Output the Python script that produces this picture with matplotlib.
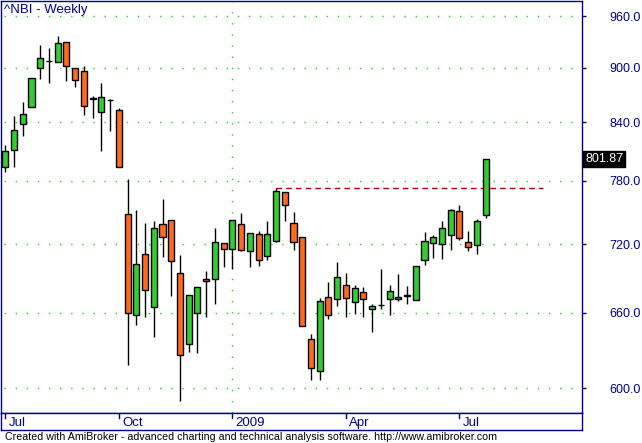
import matplotlib
matplotlib.use('Agg')
import matplotlib.pyplot as plt
from matplotlib.ticker import FixedLocator, NullLocator, FuncFormatter
from matplotlib import transforms

plt.rcParams['font.family'] = ['Liberation Sans', 'DejaVu Sans']

# weekly OHLC, one row per week starting early Jul 2008
opens = [793.5, 811, 838, 856, 900, 908, 906, 929, 900, 896,
         866, 851, 863.6, 853, 748, 658.4, 711, 665, 738, 742.5,
         694, 634.4, 660, 688.7, 688.7, 721, 715.7, 738.8, 714, 729.4,
         709.6, 722.8, 768.8, 739.7, 726.6, 638.4, 613.6, 673, 671.3, 683.5,
         668.7, 677.4, 663, 666.5, 671.3, 671.3, 675, 670.4, 705.2, 721,
         720, 728.5, 751, 722, 719, 746.5]
highs = [816.5, 846, 862, 888, 926, 922, 937, 929, 900, 901.5,
         868.7, 883, 865.4, 855.6, 782, 752, 739, 741, 762.5, 742.5,
         710, 674.8, 681.7, 696, 735, 721, 742.5, 749, 730, 732,
         741, 772.5, 768.8, 750, 726.6, 642.6, 672.4, 686.4, 703.7, 694,
         683.8, 682, 667.3, 697.9, 683.8, 693.3, 682.9, 700, 730.6, 728.5,
         741, 753, 756, 732, 743.4, 801.87]
lows = [788.9, 794, 825, 856, 887, 882.5, 906, 885, 877.7, 848,
        844, 810, 830.3, 793.5, 618, 650, 656.5, 640, 708, 674,
        590.7, 628.5, 627.7, 656.5, 667.5, 699.6, 698, 714, 699, 700.5,
        706, 722, 741, 714.5, 648.8, 606, 606.6, 655, 665.7, 656.5,
        659, 656.5, 644.5, 663.6, 658, 670, 667.8, 670.4, 701.4, 707.5,
        706.6, 714.5, 723.7, 713.6, 711.3, 744.3]
closes = [810.3, 832, 849, 888, 910.5, 908, 928, 901.5, 886, 857,
          865, 867, 863.6, 793.5, 660, 701.7, 679, 735, 726.6, 705,
          625.6, 674.8, 681.7, 687, 722, 715.7, 742.5, 714.8, 730, 705.2,
          729.4, 769.7, 756.6, 722, 648.8, 615.2, 669.6, 658.4, 690.4, 672.2,
          680.9, 671.3, 665.6, 666.5, 678.2, 673.1, 674.6, 700, 722.8, 726.6,
          735, 752, 725.7, 717.4, 741, 801.87]

price_ticks = [600, 660, 720, 780, 840, 900, 960]
date_ticks = [0, 13, 26, 39, 52]
date_labels = ['Jul', 'Oct', '2009', 'Apr', 'Jul']
peak_week = 31

navy = '#00008B'
up_col = '#33CC33'
down_col = '#FF6A22'
grid_col = '#11DD11'

W, H = 642, 443
fig = plt.figure(figsize=(W / 100, H / 100), dpi=100)
fig.patch.set_facecolor('white')


def rect(x0, y0, x1, y1):
    return [x0 / W, 1 - y1 / H, (x1 - x0) / W, (y1 - y0) / H]


ax = fig.add_axes(rect(0.5, 0.5, 581.7, 413))
axd = fig.add_axes(rect(0.5, 413, 581.7, 430))

n = len(opens)
xs = list(range(n))

# grid
for p in price_ticks:
    ax.axhline(p, xmin=0.006, color=grid_col, lw=1.0, ls=(0, (1, 7)), zorder=0)
ax.axvline(26, color=grid_col, lw=1.0, ls=(0, (1, 7)), zorder=0)

# candles
ax.vlines(xs, lows, highs, color='black', lw=1.0, zorder=2)
bottoms = [min(o, c) for o, c in zip(opens, closes)]
heights = [abs(c - o) for o, c in zip(opens, closes)]
colors = [up_col if c >= o else down_col for o, c in zip(opens, closes)]
ax.bar(xs, heights, bottom=bottoms, width=0.69, color=colors,
       edgecolor='black', linewidth=1.0, zorder=3)

# resistance line from the peak high
ax.hlines(highs[peak_week], peak_week, 61.6, color='#AA0000', lw=1.0,
          ls=(0, (4, 3)), zorder=1)

ax.set_yscale('log')
ax.set_ylim(581.5, 979.6)
ax.set_xlim(-0.55, 66.0)
ax.yaxis.set_major_locator(FixedLocator(price_ticks))
ax.yaxis.set_minor_locator(NullLocator())
ax.yaxis.set_major_formatter(FuncFormatter(lambda v, p: '%.1f' % v))
ax.yaxis.tick_right()
ax.tick_params(axis='y', which='major', direction='out', length=3,
               width=1, color=navy, labelcolor=navy, labelsize=9, pad=17)
ax.tick_params(axis='x', which='both', bottom=False, labelbottom=False)
for s in ax.spines.values():
    s.set_color(navy)
    s.set_linewidth(1.0)

# last price box
tr = transforms.blended_transform_factory(ax.transAxes, ax.transData)
ax.text(1.006, closes[-1], '%.2f' % closes[-1], transform=tr, color='white',
        fontsize=9, ha='left', va='center',
        bbox=dict(facecolor='black', edgecolor='black', pad=1.5))

# date strip
axd.set_xlim(-0.55, 66.0)
axd.set_ylim(0, 1)
axd.set_xticks([])
axd.set_yticks([])
for s in axd.spines.values():
    s.set_color(navy)
    s.set_linewidth(1.0)
for d, lab in zip(date_ticks, date_labels):
    axd.plot([d, d], [1, 0.72], color=navy, lw=1.0)
    axd.text(d + 0.35, 0.42, lab, color=navy, fontsize=9.5, ha='left',
             va='center')

fig.text(4 / W, 1 - 10 / H, '^NBI - Weekly', color=navy, fontsize=9.5,
         ha='left', va='center')
fig.text(5 / W, 1 - 437 / H,
         'Created with AmiBroker - advanced charting and technical analysis '
         'software. http://www.amibroker.com',
         color='black', fontsize=7.7, ha='left', va='center')

fig.savefig('out.png', dpi=100, facecolor='white')
